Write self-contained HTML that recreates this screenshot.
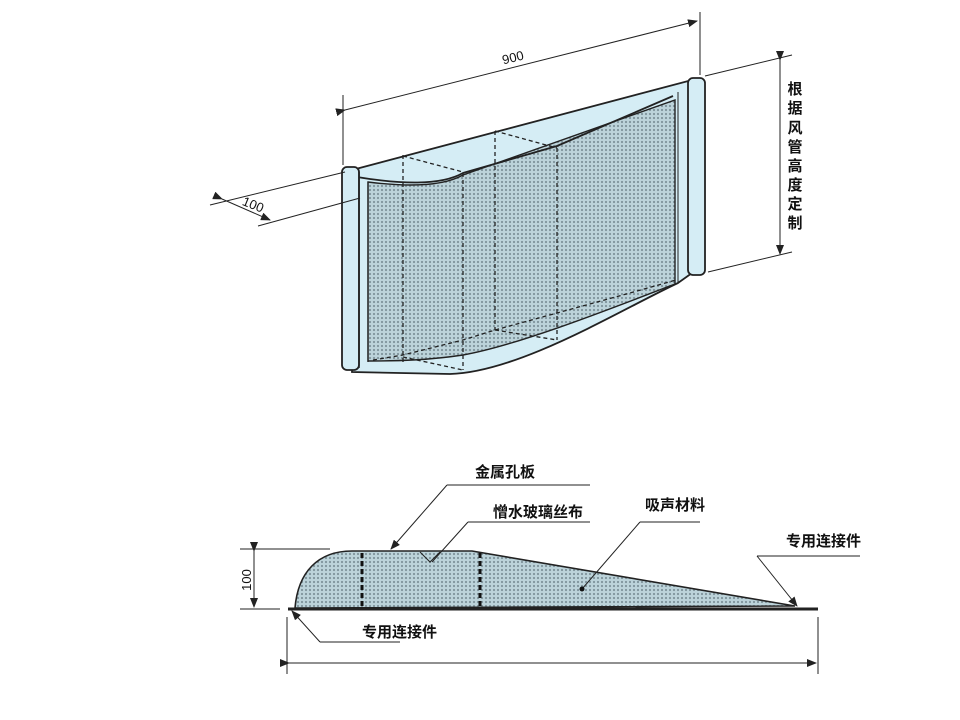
<!DOCTYPE html>
<html><head><meta charset="utf-8"><style>
html,body{margin:0;padding:0;background:#fff;}
svg{display:block;}
text{font-family:"Liberation Sans","Noto Sans CJK SC",sans-serif;fill:#111;}
</style></head><body>
<svg width="960" height="720" viewBox="0 0 960 720" xmlns="http://www.w3.org/2000/svg">
<defs>
<pattern id="dots" width="4" height="4" patternUnits="userSpaceOnUse">
<rect width="4" height="4" fill="#bcd3da"/>
<circle cx="2" cy="2" r="1.1" fill="#7f949c"/>
</pattern>
<marker id="ar" markerWidth="10" markerHeight="8" refX="9" refY="4" orient="auto" markerUnits="userSpaceOnUse">
<path d="M0,0 L10,4 L0,8 z" fill="#222"/>
</marker>
</defs>

<!-- top drawing body -->
<path d="M352,170 L692,80 L692,273 L678,283 C620,310 520,372 450,374 L352,372 z" fill="#d5edf5" stroke="#222" stroke-width="1.8"/>
<!-- mesh face -->
<path d="M368,182 C400,186 440,188 463,175 L675,100 L675,284 C620,305 520,345 463,355 C430,360 400,361 368,361 z" fill="url(#dots)" stroke="#222" stroke-width="1.4"/>
<!-- front top edge -->
<path d="M357,177 C400,184 440,186 463,173 L557,146 L673,96" fill="none" stroke="#222" stroke-width="1.8"/>
<!-- flanges -->
<rect x="342" y="167" width="17" height="203" rx="5" fill="#d5edf5" stroke="#222" stroke-width="1.8"/>
<rect x="688" y="78" width="17" height="197" rx="5" fill="#d5edf5" stroke="#222" stroke-width="1.8"/>
<line x1="359" y1="172" x2="359" y2="368" stroke="#222" stroke-width="1.5"/>
<line x1="678" y1="92" x2="678" y2="283" stroke="#222" stroke-width="1"/>
<line x1="368" y1="182" x2="368" y2="362" stroke="#222" stroke-width="1.2"/>
<!-- dashed -->
<g stroke="#222" stroke-width="1.3" stroke-dasharray="4,3" fill="none">
<line x1="403" y1="155" x2="403" y2="362"/>
<line x1="463" y1="173" x2="463" y2="370"/>
<line x1="495" y1="131" x2="495" y2="330"/>
<line x1="557" y1="148" x2="557" y2="340"/>
<line x1="403" y1="156" x2="463" y2="172"/>
<line x1="495" y1="131" x2="557" y2="148"/>
<path d="M373,360 L403,355 L463,340 L495,330 L557,313 L630,293 L676,280"/>
<path d="M403,357 L463,370 M495,330 L557,340"/>
</g>

<!-- dimensions top -->
<g stroke="#222" stroke-width="1" fill="none">
<line x1="343" y1="95" x2="343" y2="165"/>
<line x1="700" y1="12" x2="700" y2="75"/>
<line x1="345" y1="110" x2="697" y2="21" marker-start="url(#ar)" marker-end="url(#ar)"/>
<line x1="210" y1="205" x2="345" y2="172"/>
<line x1="258" y1="226" x2="360" y2="198"/>
<line x1="222" y1="199" x2="270" y2="220" marker-start="url(#ar)" marker-end="url(#ar)"/>
<line x1="705" y1="76" x2="792" y2="55"/>
<line x1="708" y1="272" x2="792" y2="252"/>
<line x1="780" y1="60" x2="780" y2="254" marker-start="url(#ar)" marker-end="url(#ar)"/>
</g>
<text x="513" y="62" font-size="13" text-anchor="middle" transform="rotate(-14 513 58)">900</text>
<text x="253" y="209" font-size="13" text-anchor="middle" transform="rotate(22 253 205)">100</text>
<g font-size="15" font-weight="bold" text-anchor="middle">
<text x="795" y="94">根</text><text x="795" y="113">据</text><text x="795" y="133">风</text><text x="795" y="152">管</text><text x="795" y="171">高</text><text x="795" y="190">度</text><text x="795" y="209">定</text><text x="795" y="228">制</text>
</g>

<!-- bottom drawing -->
<path d="M295,608 C298,572 318,551 352,551 L472,551 L795,606 z" fill="url(#dots)" stroke="#222" stroke-width="1.6"/>
<line x1="288" y1="609" x2="818" y2="609" stroke="#222" stroke-width="3"/>
<g stroke="#111" stroke-width="3" stroke-dasharray="5,3">
<line x1="362" y1="553" x2="362" y2="607"/>
<line x1="480" y1="553" x2="480" y2="607"/>
</g>
<g stroke="#222" stroke-width="1" fill="none">
<line x1="240" y1="549" x2="330" y2="549"/>
<line x1="240" y1="609" x2="280" y2="609"/>
<line x1="254" y1="551" x2="254" y2="607" marker-start="url(#ar)" marker-end="url(#ar)"/>
<line x1="287" y1="617" x2="287" y2="674"/>
<line x1="818" y1="617" x2="818" y2="674"/>
<line x1="289" y1="663" x2="816" y2="663" marker-start="url(#ar)" marker-end="url(#ar)"/>
<!-- leaders -->
<line x1="447" y1="485" x2="590" y2="485"/>
<line x1="447" y1="485" x2="391" y2="549" marker-end="url(#ar)"/>
<line x1="468" y1="522" x2="590" y2="522"/>
<line x1="468" y1="522" x2="432" y2="562"/>
<path d="M420,552 L430,562 L440,552"/>
<line x1="640" y1="522" x2="700" y2="522"/>
<line x1="640" y1="522" x2="582" y2="589"/>
<line x1="757" y1="556" x2="860" y2="556"/>
<line x1="757" y1="556" x2="797" y2="606" marker-end="url(#ar)"/>
<line x1="400" y1="642" x2="320" y2="642"/>
<line x1="320" y1="642" x2="292" y2="611" marker-end="url(#ar)"/>
</g>
<circle cx="582" cy="589" r="2.5" fill="#111"/>
<text x="247" y="580" font-size="13" text-anchor="middle" transform="rotate(-90 247 580)" dy="4">100</text>
<g font-size="15" font-weight="bold">
<text x="475" y="477">金属孔板</text>
<text x="493" y="517">憎水玻璃丝布</text>
<text x="645" y="510">吸声材料</text>
<text x="786" y="546">专用连接件</text>
<text x="362" y="637">专用连接件</text>
</g>
</svg>
</body></html>
